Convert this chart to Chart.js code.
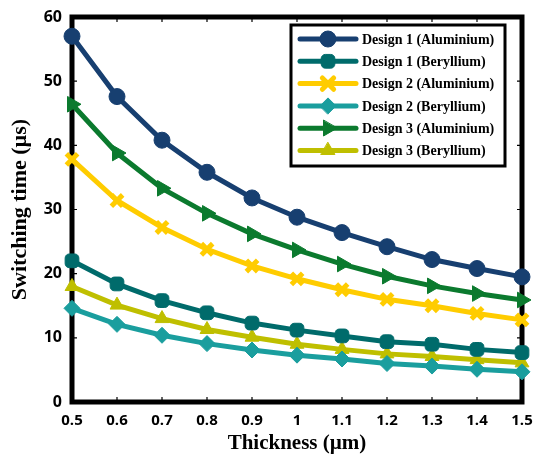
<!DOCTYPE html>
<html>
<head>
<meta charset="utf-8">
<script src="https://cdn.jsdelivr.net/npm/chart.js@4/dist/chart.umd.min.js"></script>
<style>
  html, body { margin: 0; padding: 0; background: #fff; }
  #wrap { width: 537px; height: 458px; position: relative; }
</style>
</head>
<body>
<div id="wrap"><canvas id="chartSwitch"></canvas></div>
<script>
const thickness = ["0.5", "0.6", "0.7", "0.8", "0.9", "1", "1.1", "1.2", "1.3", "1.4", "1.5"];
const yTicks = [0, 10, 20, 30, 40, 50, 60];

const design1Al = [57.0, 47.6, 40.8, 35.8, 31.8, 28.8, 26.4, 24.2, 22.2, 20.8, 19.5];
const design1Be = [22.0, 18.4, 15.8, 13.9, 12.3, 11.2, 10.3, 9.4, 9.0, 8.2, 7.7];
const design2Al = [37.8, 31.4, 27.2, 23.8, 21.2, 19.2, 17.5, 16.0, 15.0, 13.8, 12.8];
const design2Be = [14.6, 12.1, 10.4, 9.1, 8.1, 7.3, 6.7, 6.0, 5.6, 5.1, 4.7];
const design3Al = [46.4, 38.8, 33.3, 29.4, 26.2, 23.7, 21.5, 19.6, 18.1, 16.9, 15.9];
const design3Be = [18.0, 15.1, 13.0, 11.3, 10.1, 9.0, 8.2, 7.5, 7.1, 6.6, 6.1];

const seriesNames = [
  "Design 1 (Aluminium)", "Design 1 (Beryllium)", "Design 2 (Aluminium)",
  "Design 2 (Beryllium)", "Design 3 (Aluminium)", "Design 3 (Beryllium)"
];
const seriesData = [design1Al, design1Be, design2Al, design2Be, design3Al, design3Be];
const seriesColors = ["#173f70", "#006b6b", "#ffcc00", "#1a9e9e", "#0b7a2e", "#bfbf00"];
const seriesMarkers = ["circle", "rectRounded", "crossRot", "rectRot", "triangle", "triangle"];
const markerRotation = [0, 0, 0, 0, 90, 0];
const markerRadius = [8, 8, 8, 8, 9, 8];

const PLOT = { left: 72, right: 522, top: 17, bottom: 402 };

Chart.defaults.color = "#000";

const datasets = seriesNames.map((name, i) => ({
  label: name,
  data: seriesData[i],
  borderColor: seriesColors[i],
  backgroundColor: seriesColors[i],
  borderWidth: 5,
  pointStyle: seriesMarkers[i],
  pointRotation: markerRotation[i],
  pointRadius: markerRadius[i],
  pointBorderWidth: seriesMarkers[i] === "crossRot" ? 5 : 1,
  pointBackgroundColor: seriesColors[i],
  pointBorderColor: seriesColors[i],
  tension: 0,
  clip: false
}));

// thick frame and inward ticks, drawn under the lines
const framePlugin = {
  id: "frame",
  beforeDatasetsDraw(chart) {
    const { ctx, chartArea: a, scales } = chart;
    ctx.save();
    ctx.strokeStyle = "#000";
    ctx.lineWidth = 1.2;
    const len = 5;
    thickness.forEach((t, i) => {
      const x = scales.x.getPixelForValue(i);
      ctx.beginPath();
      ctx.moveTo(x, a.bottom); ctx.lineTo(x, a.bottom - len);
      ctx.moveTo(x, a.top); ctx.lineTo(x, a.top + len);
      ctx.stroke();
    });
    yTicks.forEach(v => {
      const y = scales.y.getPixelForValue(v);
      ctx.beginPath();
      ctx.moveTo(a.left, y); ctx.lineTo(a.left + len, y);
      ctx.moveTo(a.right, y); ctx.lineTo(a.right - len, y);
      ctx.stroke();
    });
    ctx.lineWidth = 5;
    ctx.strokeRect(a.left, a.top, a.right - a.left, a.bottom - a.top);
    ctx.restore();
  }
};

// boxed legend with line + marker samples
const legendPlugin = {
  id: "boxLegend",
  afterDraw(chart) {
    const ctx = chart.ctx;
    const box = { x: 291, y: 25, w: 214, h: 141 };
    ctx.save();
    ctx.fillStyle = "#fff";
    ctx.fillRect(box.x, box.y, box.w, box.h);
    ctx.strokeStyle = "#000";
    ctx.lineWidth = 3;
    ctx.strokeRect(box.x, box.y, box.w, box.h);
    ctx.font = "bold 14px 'Liberation Serif', serif";
    ctx.textBaseline = "middle";
    seriesNames.forEach((name, i) => {
      const y = 39 + i * 22.3;
      ctx.strokeStyle = seriesColors[i];
      ctx.fillStyle = seriesColors[i];
      ctx.lineWidth = 5;
      ctx.lineCap = "round";
      ctx.beginPath();
      ctx.moveTo(300, y); ctx.lineTo(356, y);
      ctx.stroke();
      ctx.lineWidth = seriesMarkers[i] === "crossRot" ? 5 : 1;
      Chart.helpers.drawPoint(ctx, {
        pointStyle: seriesMarkers[i],
        radius: markerRadius[i],
        rotation: markerRotation[i],
        borderWidth: ctx.lineWidth
      }, 328, y);
      ctx.fillStyle = "#000";
      ctx.fillText(name, 362, y + 1);
    });
    ctx.restore();
  }
};

new Chart(document.getElementById("chartSwitch"), {
  type: "line",
  data: { labels: thickness, datasets: datasets },
  options: {
    responsive: true,
    maintainAspectRatio: false,
    animation: false,
    layout: { padding: { top: PLOT.top, right: 537 - PLOT.right, left: 0, bottom: 0 } },
    plugins: {
      legend: { display: false },
      tooltip: { enabled: false }
    },
    scales: {
      x: {
        type: "category",
        offset: false,
        grid: { display: false },
        border: { display: false },
        ticks: {
          font: { family: "'Open Sans', sans-serif", weight: "bold", size: 15 },
          padding: 2,
          maxRotation: 0,
          autoSkip: false
        },
        title: {
          display: true,
          text: "Thickness (µm)",
          font: { family: "'Liberation Serif', serif", weight: "bold", size: 21 },
          padding: { top: 0, bottom: 2 }
        },
        afterFit(scale) { scale.height = 458 - PLOT.bottom; }
      },
      y: {
        min: 0,
        max: 60,
        grid: { display: false },
        border: { display: false },
        ticks: {
          stepSize: 10,
          font: { family: "'Open Sans', sans-serif", weight: "bold", size: 16 },
          padding: 2
        },
        title: {
          display: true,
          text: "Switching time (µs)",
          font: { family: "'Liberation Serif', serif", weight: "bold", size: 22 },
          padding: { top: 7, bottom: 0 }
        },
        afterFit(scale) { scale.width = PLOT.left; }
      }
    }
  },
  plugins: [framePlugin, legendPlugin]
});
</script>
</body>
</html>
